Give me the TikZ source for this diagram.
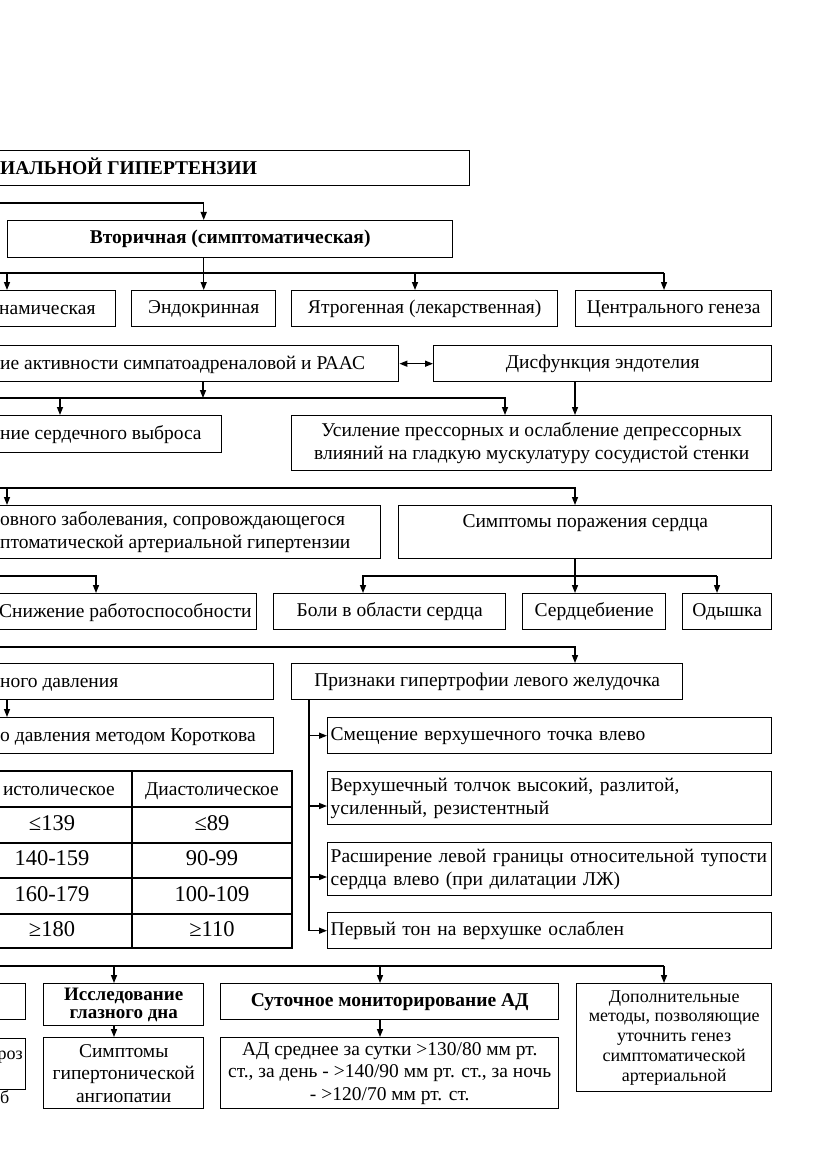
\documentclass[tikz,border=0pt]{standalone}
\usepackage{fontspec}
\setmainfont{Liberation Serif}
\usetikzlibrary{arrows.meta}
\newcommand{\fmain}{\fontsize{19.5}{22.5}\selectfont}
\newcommand{\fbig}{\fontsize{22.5}{26}\selectfont}
\newcommand{\fsml}{\fontsize{18}{19.8}\selectfont}
\newcommand{\fbd}{\fontsize{19.5}{22.5}\selectfont\bfseries}
\newcommand{\fbdn}{\fontsize{19}{18}\selectfont\bfseries}
\tikzset{
  ln/.style={line width=1.4pt},
  box/.style={draw, line width=1.4pt, align=center, inner sep=2pt, font=\fmain, anchor=north west},
  one/.style={text height=13.5pt, text depth=4.5pt},
  box1/.style={box, one},
  txt/.style={inner sep=0pt, font=\fmain, anchor=west, one, yshift=-2pt},
  txtm/.style={inner sep=0pt, font=\fmain, anchor=west},
  cell/.style={inner sep=0pt, font=\fbig, anchor=center, text height=15.5pt, text depth=5pt},
  arr/.style={line width=1.4pt, -{Triangle[length=8pt,width=6pt]}},
  dbl/.style={line width=1.4pt, {Triangle[length=8pt,width=6pt]}-{Triangle[length=8pt,width=6pt]}},
}
\begin{document}
\begin{tikzpicture}[x=1pt,y=-1pt]
\useasboundingbox (0,0) rectangle (831,1174);
\fill[white] (0,0) rectangle (831,1174);
\clip (0,0) rectangle (831,1174);

% title
\node[box, minimum width=489pt, minimum height=35pt] (title) at (-20,150) {};
\node[txt, font=\fbd] (titleT) at (0,168) {ИАЛЬНОЙ ГИПЕРТЕНЗИИ};
\node[box1, font=\fbd, minimum width=445pt, minimum height=37pt] (vtor) at (7,220) {Вторичная (симптоматическая)};

% row 1
\node[box, minimum width=135pt, minimum height=36pt] (gemo) at (-20,290) {};
\node[txt] (gemoT) at (-1,308) {намическая};
\node[box1, minimum width=144pt, minimum height=36pt] (endo) at (131,290) {Эндокринная};
\node[box1, minimum width=266pt, minimum height=36pt] (ytro) at (291,290) {Ятрогенная (лекарственная)};
\node[box1, minimum width=196pt, minimum height=36pt] (cent) at (575,290) {Центрального генеза};

\coordinate (in1) at (0,203);
\draw[arr] (in1) -| (endo.north |- vtor.north);
\draw[arr] (endo.north |- vtor.south) -- (endo.north);
\coordinate (b1) at (0,273);
\coordinate (b1e) at (664,273);
\draw[ln] (b1) -- (b1e);
\coordinate (g1) at (7,273);
\draw[arr] (g1) -- (g1 |- gemo.north);
\coordinate (y1) at (415,273);
\draw[arr] (y1) -- (y1 |- ytro.north);
\draw[arr] (b1e) -- (b1e |- cent.north);

% row 2
\node[box, minimum width=418pt, minimum height=36pt] (akt) at (-20,345) {};
\node[txt] (aktT) at (0,363) {ие активности симпатоадреналовой и РААС};
\node[box1, minimum width=338pt, minimum height=36pt] (dis) at (433,345) {Дисфункция эндотелия};
\draw[dbl] (akt.east) -- (dis.west);

% row 3
\node[box, minimum width=241pt, minimum height=37pt] (vyb) at (-20,415) {};
\node[txt] (vybT) at (0,433) {ние сердечного выброса};
\node[box, minimum width=480pt, minimum height=55pt] (usil) at (291,415) {Усиление прессорных и ослабление депрессорных\\влияний на гладкую мускулатуру сосудистой стенки};
\coordinate (a2) at (203,398);
\draw[arr] (a2 |- akt.south) -- (a2);
\coordinate (b2) at (0,398);
\coordinate (u2) at (505,398);
\draw[arr] (b2) -- (u2) -- (u2 |- usil.north);
\coordinate (v2) at (60,398);
\draw[arr] (v2) -- (v2 |- vyb.north);
\coordinate (d2) at (575,0);
\draw[arr] (d2 |- dis.south) -- (d2 |- usil.north);

% row 4
\node[box, minimum width=400pt, minimum height=53pt] (osn) at (-20,505) {};
\node[txtm, align=left] (osnT) at (0,532) {овного заболевания, сопровождающегося\\птоматической артериальной гипертензии};
\node[box, minimum width=373pt, minimum height=53pt] (sym) at (398,505) {Симптомы поражения сердца\\\mbox{}};
\coordinate (b3) at (0,488);
\draw[arr] (b3) -| (d2 |- sym.north);
\coordinate (o3) at (7,488);
\draw[arr] (o3) -- (o3 |- osn.north);

% row 5
\node[box, minimum width=276pt, minimum height=36pt] (sniz) at (-20,593) {};
\node[txt] (snizT) at (-1,611) {Снижение работоспособности};
\node[box1, minimum width=232pt, minimum height=36pt] (boli) at (273,593) {Боли в области сердца};
\node[box1, minimum width=143pt, minimum height=36pt] (serd) at (522,593) {Сердцебиение};
\node[box1, minimum width=89pt, minimum height=36pt] (odys) at (682,593) {Одышка};
\coordinate (b4l) at (0,576);
\coordinate (s4) at (96,576);
\draw[arr] (b4l) -- (s4) -- (s4 |- sniz.north);
\coordinate (bl4) at (363,576);
\coordinate (od4) at (717,576);
\draw[arr] (d2 |- sym.south) -- (d2 |- serd.north);
\draw[arr] (od4) -- (bl4) -- (bl4 |- boli.north);
\draw[arr] (od4) -- (od4 |- odys.north);

% row 6
\node[box, minimum width=293pt, minimum height=36pt] (davl) at (-20,663) {};
\node[txt] (davlT) at (0,681) {ного давления};
\node[box1, minimum width=391pt, minimum height=36pt] (prizn) at (291,663) {Признаки гипертрофии левого желудочка};
\coordinate (b5) at (0,647);
\draw[arr] (b5) -| (d2 |- prizn.north);

% row 7
\node[box, minimum width=293pt, minimum height=36pt] (kor) at (-20,717) {};
\node[txt] (korT) at (0,735) {о давления методом Короткова};
\coordinate (k6) at (7,0);
\draw[arr] (k6 |- davl.south) -- (k6 |- kor.north);

% right list
\node[box1, minimum width=444pt, minimum height=36pt, text width=438pt, align=left, inner xsep=3pt] (sm1) at (327,717) {Смещение верхушечного точка влево};
\node[box, minimum width=444pt, minimum height=53pt, text width=438pt, align=left, inner xsep=3pt] (sm2) at (327,771) {Верхушечный толчок высокий, разлитой,\\усиленный, резистентный};
\node[box, minimum width=444pt, minimum height=53pt, text width=438pt, align=left, inner xsep=3pt] (sm3) at (327,842) {Расширение левой границы относительной тупости\\сердца влево (при дилатации ЛЖ)};
\node[box1, minimum width=444pt, minimum height=36pt, text width=438pt, align=left, inner xsep=3pt] (sm4) at (327,912) {Первый тон на верхушке ослаблен};
\coordinate (vx) at (309,0);
\draw[arr] (vx |- prizn.south) |- (sm4.west);
\draw[arr] (vx |- sm1.west) -- (sm1.west);
\coordinate (a806) at (309,806);
\draw[arr] (a806) -- (a806 -| sm2.west);
\coordinate (a877) at (309,877);
\draw[arr] (a877) -- (a877 -| sm3.west);

% table
\draw[ln] (-20,771) rectangle (292,948);
\foreach \yy in {807,843,878,914} \draw[ln] (-20,\yy) -- (292,\yy);
\draw[ln] (132,771) -- (132,948);
\node[txt, anchor=east] (th1) at (115,789) {истолическое};
\node[txt, anchor=center] (th2) at (212,789) {Диастолическое};
\node[cell] (t11) at (52,825) {≤139};
\node[cell] (t12) at (212,825) {≤89};
\node[cell] (t21) at (52,860.5) {140-159};
\node[cell] (t22) at (212,860.5) {90-99};
\node[cell] (t31) at (52,896) {160-179};
\node[cell] (t32) at (212,896) {100-109};
\node[cell] (t41) at (52,931) {≥180};
\node[cell] (t42) at (212,931) {≥110};

% bottom
\node[box, minimum width=45pt, minimum height=36pt] (px1) at (-20,983) {};
\node[box, font=\fbdn, minimum width=160pt, minimum height=42pt] (issl) at (43,983) {Исследование\\глазного дна};
\node[box1, font=\fbd, minimum width=338pt, minimum height=36pt] (sut) at (220,983) {Суточное мониторирование АД};
\node[box, font=\fsml, minimum width=195pt, minimum height=108pt] (dop) at (576,983) {Дополнительные\\методы, позволяющие\\уточнить генез\\симптоматической\\артериальной};
\node[box, minimum width=45pt, minimum height=51pt] (px2) at (-20,1038) {};
\node[txt, font=\fsml, anchor=east] (px2T) at (23,1053) {роз};
\node[txt, font=\fsml] (px3T) at (0,1097) {б};
\node[box, minimum width=160pt, minimum height=71pt] (simp) at (43,1037) {Симптомы\\гипертонической\\ангиопатии};
\node[box, minimum width=338pt, minimum height=71pt] (ad) at (220,1037) {АД среднее за сутки >130/80 мм рт.\\ст., за день - >140/90 мм рт. ст., за ночь\\- >120/70 мм рт. ст.};
\coordinate (b7) at (0,966);
\coordinate (i7) at (114,966);
\coordinate (s7) at (380,966);
\coordinate (d7) at (664,966);
\draw[ln] (b7) -- (d7);
\draw[arr] (i7) -- (i7 |- issl.north);
\draw[arr] (s7) -- (s7 |- sut.north);
\draw[arr] (d7) -- (d7 |- dop.north);
\draw[arr] (i7 |- issl.south) -- (i7 |- simp.north);
\draw[arr] (s7 |- sut.south) -- (s7 |- ad.north);
\end{tikzpicture}
\end{document}
